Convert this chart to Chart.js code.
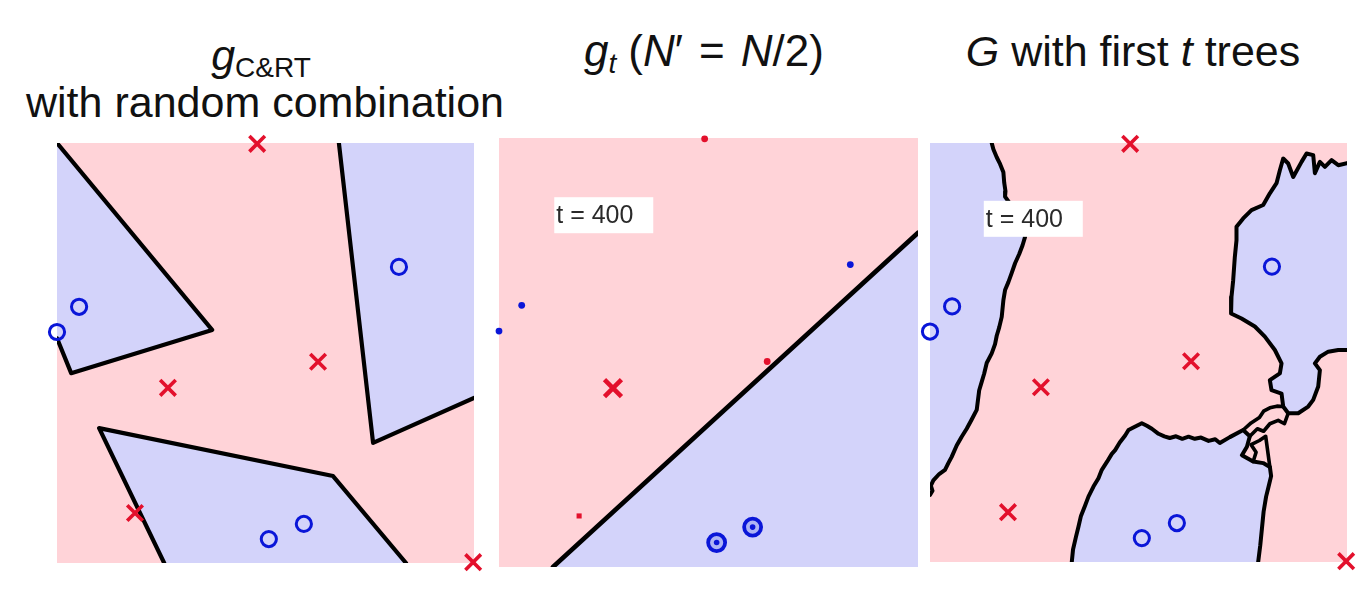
<!DOCTYPE html>
<html>
<head>
<meta charset="utf-8">
<script src="https://cdn.jsdelivr.net/npm/chart.js@4.4.0/dist/chart.umd.min.js"></script>
<style>
  html, body { margin: 0 ; padding: 0 ; background: #FFFFFF ; }
  body { width: 1368px ; height: 590px ; position: relative ; overflow: hidden ;
         font-family: "Liberation Sans", Arial, sans-serif ; }
  canvas { position: absolute ; }
  .title { position: absolute ; text-align: center ; font-size: 43px ; line-height: 43px ;
           color: #111111 ; white-space: nowrap ; }
  .sub   { font-size: 28px ; position: relative ; top: 7px ; }
  .gap   { margin-left: 12px ; }
  .rel   { margin: 0 16px ; }
</style>
</head>
<body>

<div class="title" style="left:0px; width:522px; top:34px;"><i>g</i><span class="sub">C&amp;RT</span></div>
<div class="title" style="left:0px; width:530px; top:81px;">with random combination</div>
<div class="title" style="left:504px; width:400px; top:29px; font-size:44px;"><i>g</i><span class="sub"><i>t</i></span><span class="gap">(</span><i>N</i>′<span class="rel">=</span><i>N</i>/2)</div>
<div class="title" style="left:933px; width:400px; top:30px;"><i>G</i> with first <i>t</i> trees</div>

<canvas id="panel1" width="457" height="460" style="left:37px; top:123px;"></canvas>
<canvas id="panel2" width="459" height="469" style="left:479px; top:118px;"></canvas>
<canvas id="panel3" width="457" height="459" style="left:910px; top:123px;"></canvas>

<script>
    const PINK         = '#FFD3D8' ;
    const BLUE         = '#D3D3FA' ;
    const CROSS_COLOR  = '#E3102C' ;
    const CIRCLE_COLOR = '#0A16D8' ;
    const LINE_COLOR   = '#000000' ;
    const LABEL_COLOR  = '#2A2A2A' ;

    // ---------------- Data (unit square, y up) ------------------------------

    // the training set, same in all three panels
    const CROSS_X  = [ 0.480, 0.626, 0.266, 0.187, 0.998 ] ;
    const CROSS_Y  = [ 0.998, 0.479, 0.417, 0.119, 0.002 ] ;
    const CIRCLE_X = [ 0.820, 0.053, 0.000, 0.592, 0.508 ] ;
    const CIRCLE_Y = [ 0.705, 0.610, 0.550, 0.093, 0.057 ] ;

    // bootstrap panel: how each point shows up in the sample
    const P2_CROSS_KIND  = [ 'dot', 'dot', 'cross', 'square', 'none' ] ;
    const P2_CIRCLE_KIND = [ 'dot', 'dot', 'dot', 'ring', 'ring' ] ;

    const TREE_LABEL = 't = 400' ;

    // g_C&RT : blue regions, boundary first then the frame corners that close it
    const P1_LEFT         = [ [0.000, 1.000], [0.372, 0.555], [0.034, 0.452], [0.000, 0.535] ] ;
    const P1_RIGHT        = [ [0.676, 1.000], [0.758, 0.286], [1.000, 0.393] ] ;
    const P1_RIGHT_CLOSE  = [ [1.000, 1.000] ] ;
    const P1_BOTTOM       = [ [0.257, 0.000], [0.101, 0.321], [0.662, 0.207], [0.837, 0.000] ] ;

    // g_t : one linear split
    const P2_XMAX         = 0.978 ;
    const P2_SPLIT        = [ [0.126, 0.000], [0.978, 0.779] ] ;
    const P2_SPLIT_CLOSE  = [ [0.978, 0.000] ] ;

    // G : ragged boundaries of the vote
    const P3_LEFT = [
        [0.148, 1.000], [0.152, 0.985], [0.160, 0.966], [0.168, 0.950], [0.176, 0.930],
        [0.178, 0.905], [0.181, 0.885], [0.180, 0.872], [0.192, 0.855], [0.206, 0.833],
        [0.218, 0.810], [0.228, 0.776], [0.222, 0.756], [0.214, 0.735], [0.204, 0.713],
        [0.196, 0.690], [0.188, 0.668], [0.180, 0.649], [0.176, 0.625], [0.172, 0.585],
        [0.166, 0.560], [0.160, 0.540], [0.156, 0.520], [0.148, 0.498], [0.136, 0.475],
        [0.130, 0.450], [0.124, 0.430], [0.118, 0.410], [0.112, 0.363], [0.100, 0.340],
        [0.088, 0.318], [0.076, 0.299], [0.064, 0.278], [0.052, 0.251], [0.044, 0.236],
        [0.036, 0.220], [0.022, 0.210], [0.008, 0.195], [0.002, 0.182], [0.006, 0.170],
        [0.000, 0.160]
    ] ;
    const P3_LEFT_CLOSE = [ [0.000, 1.000] ] ;

    const P3_RIGHT = [
        [1.000, 0.952], [0.979, 0.947], [0.963, 0.959], [0.947, 0.943], [0.935, 0.955],
        [0.923, 0.928], [0.919, 0.971], [0.903, 0.975], [0.891, 0.955], [0.871, 0.919],
        [0.859, 0.951], [0.847, 0.963], [0.839, 0.935], [0.831, 0.904], [0.815, 0.880],
        [0.799, 0.852], [0.771, 0.840], [0.751, 0.820], [0.735, 0.800], [0.735, 0.768],
        [0.731, 0.728], [0.727, 0.672], [0.723, 0.633], [0.722, 0.593], [0.747, 0.581],
        [0.779, 0.562], [0.803, 0.538], [0.827, 0.506], [0.843, 0.474], [0.839, 0.450],
        [0.815, 0.434], [0.819, 0.410], [0.843, 0.402], [0.847, 0.371], [0.859, 0.355],
        [0.883, 0.355], [0.907, 0.371], [0.919, 0.387], [0.931, 0.419], [0.935, 0.458],
        [0.923, 0.474], [0.935, 0.490], [0.955, 0.502], [0.979, 0.506], [1.000, 0.506]
    ] ;

    const P3_BOTTOM = [
        [0.340, 0.000], [0.343, 0.030], [0.350, 0.060], [0.356, 0.084], [0.362, 0.110],
        [0.372, 0.135], [0.380, 0.156], [0.392, 0.180], [0.404, 0.200], [0.412, 0.220],
        [0.425, 0.240], [0.436, 0.258], [0.444, 0.267], [0.455, 0.285], [0.468, 0.302],
        [0.476, 0.315], [0.490, 0.322], [0.508, 0.331], [0.520, 0.325], [0.532, 0.318],
        [0.548, 0.306], [0.562, 0.300], [0.575, 0.296], [0.590, 0.300], [0.605, 0.294],
        [0.620, 0.299], [0.635, 0.294], [0.650, 0.297], [0.668, 0.289], [0.684, 0.293],
        [0.695, 0.284], [0.719, 0.298], [0.751, 0.315], [0.767, 0.300], [0.760, 0.275],
        [0.748, 0.255], [0.775, 0.240], [0.799, 0.236], [0.815, 0.227], [0.818, 0.205],
        [0.812, 0.180], [0.806, 0.156], [0.800, 0.120], [0.796, 0.080], [0.792, 0.040],
        [0.787, 0.000]
    ] ;

    // the tangle where the right and bottom regions nearly meet
    const P3_KNOT_A = [ [0.751, 0.315], [0.770, 0.332], [0.790, 0.345], [0.800, 0.360],
                        [0.815, 0.368], [0.832, 0.372], [0.847, 0.371] ] ;
    const P3_KNOT_B = [ [0.767, 0.300], [0.785, 0.318], [0.800, 0.312], [0.815, 0.330],
                        [0.835, 0.338], [0.850, 0.330], [0.859, 0.355] ] ;
    const P3_KNOT_C = [ [0.775, 0.240], [0.782, 0.262], [0.770, 0.280], [0.790, 0.290],
                        [0.805, 0.300], [0.815, 0.227] ] ;

    // the "t = 400" box, top-left corner in data units
    const LABEL_X = 0.129 ;
    const LABEL_Y = 0.862 ;

    // ---------------- Helpers ----------------------------------------------

    function toPoints( pairs ) {
        return pairs.map( function( p ) { return { x: p[0], y: p[1] } ; } ) ;
    }

    function pickPoints( xs, ys, kinds, kind ) {
        var result = [] ;
        for( var i=0; i<xs.length; i++ ) {
            if( kinds == null || kinds[i] == kind ) {
                result.push( { x: xs[i], y: ys[i] } ) ;
            }
        }
        return result ;
    }

    function regionDataset( boundary, closing ) {
        return {
            type            : 'line',
            data            : toPoints( boundary.concat( closing || [] ) ),
            fill            : 'shape',
            backgroundColor : BLUE,
            borderColor     : 'rgba(0,0,0,0)',
            borderWidth     : 0,
            pointRadius     : 0,
            tension         : 0,
            order           : 3,
        } ;
    }

    function boundaryDataset( boundary, width ) {
        return {
            type            : 'line',
            data            : toPoints( boundary ),
            fill            : false,
            borderColor     : LINE_COLOR,
            borderWidth     : width,
            borderJoinStyle : 'round',
            borderCapStyle  : 'round',
            pointRadius     : 0,
            tension         : 0,
            order           : 2,
        } ;
    }

    function markerDataset( points, style, color, radius, width, fillColor ) {
        return {
            type                 : 'scatter',
            data                 : points,
            pointStyle           : style,
            pointRadius          : radius,
            pointBorderWidth     : width,
            pointBorderColor     : color,
            pointBackgroundColor : fillColor || 'rgba(0,0,0,0)',
            clip                 : false,
            order                : 1,
        } ;
    }

    function crossDataset( points ) {
        return markerDataset( points, 'crossRot', CROSS_COLOR, 11, 3.6 ) ;
    }

    function circleDataset( points ) {
        return markerDataset( points, 'circle', CIRCLE_COLOR, 7.6, 3.0 ) ;
    }

    const backgroundPlugin = {
        id : 'pinkBackground',
        beforeDraw( chart ) {
            const a = chart.chartArea ;
            const ctx = chart.ctx ;
            ctx.save() ;
            ctx.fillStyle = PINK ;
            ctx.fillRect( a.left, a.top, a.right - a.left, a.bottom - a.top ) ;
            ctx.restore() ;
        }
    } ;

    const labelPlugin = {
        id : 'treeLabel',
        afterDatasetsDraw( chart, args, opts ) {
            if( !opts || !opts.text ) { return ; }
            const ctx = chart.ctx ;
            const x = chart.scales.x.getPixelForValue( LABEL_X ) ;
            const y = chart.scales.y.getPixelForValue( LABEL_Y ) ;
            ctx.save() ;
            ctx.fillStyle = '#FFFFFF' ;
            ctx.fillRect( x, y, 99, 36 ) ;
            ctx.font = '25px "Liberation Sans", Arial, sans-serif' ;
            ctx.fillStyle = LABEL_COLOR ;
            ctx.textBaseline = 'middle' ;
            ctx.fillText( opts.text, x + 2, y + 19 ) ;
            ctx.restore() ;
        }
    } ;

    function makeChart( id, xMax, datasets, label ) {
        return new Chart( document.getElementById( id ), {
            type : 'scatter',
            data : { datasets: datasets },
            options : {
                responsive : false,
                animation  : false,
                layout     : { padding: 20 },
                events     : [],
                plugins : {
                    legend    : { display: false },
                    tooltip   : { enabled: false },
                    treeLabel : label ? { text: label } : false,
                },
                scales : {
                    x : { type: 'linear', min: 0, max: xMax, display: false },
                    y : { type: 'linear', min: 0, max: 1,    display: false },
                }
            },
            plugins : [ backgroundPlugin, labelPlugin ]
        } ) ;
    }

    // ---------------- Panel 1 : g_C&RT ---------------------------------------

    makeChart( 'panel1', 1, [
        crossDataset( pickPoints( CROSS_X, CROSS_Y ) ),
        circleDataset( pickPoints( CIRCLE_X, CIRCLE_Y ) ),
        boundaryDataset( P1_LEFT, 4.2 ),
        boundaryDataset( P1_RIGHT, 4.2 ),
        boundaryDataset( P1_BOTTOM, 4.2 ),
        regionDataset( P1_LEFT ),
        regionDataset( P1_RIGHT, P1_RIGHT_CLOSE ),
        regionDataset( P1_BOTTOM ),
    ] ) ;

    // ---------------- Panel 2 : g_t on a bootstrap sample --------------------

    makeChart( 'panel2', P2_XMAX, [
        markerDataset( pickPoints( CROSS_X, CROSS_Y, P2_CROSS_KIND, 'cross' ), 'crossRot', CROSS_COLOR, 12, 4.6 ),
        markerDataset( pickPoints( CROSS_X, CROSS_Y, P2_CROSS_KIND, 'square' ), 'rect', CROSS_COLOR, 3.6, 0, CROSS_COLOR ),
        markerDataset( pickPoints( CROSS_X, CROSS_Y, P2_CROSS_KIND, 'dot' ), 'circle', CROSS_COLOR, 3.4, 0, CROSS_COLOR ),
        markerDataset( pickPoints( CIRCLE_X, CIRCLE_Y, P2_CIRCLE_KIND, 'dot' ), 'circle', CIRCLE_COLOR, 3.4, 0, CIRCLE_COLOR ),
        markerDataset( pickPoints( CIRCLE_X, CIRCLE_Y, P2_CIRCLE_KIND, 'ring' ), 'circle', CIRCLE_COLOR, 2.8, 0, CIRCLE_COLOR ),
        markerDataset( pickPoints( CIRCLE_X, CIRCLE_Y, P2_CIRCLE_KIND, 'ring' ), 'circle', CIRCLE_COLOR, 8.5, 3.8, 'rgba(150,160,240,0.6)' ),
        boundaryDataset( P2_SPLIT, 4.6 ),
        regionDataset( P2_SPLIT, P2_SPLIT_CLOSE ),
    ], TREE_LABEL ) ;

    // ---------------- Panel 3 : G with the first t trees ---------------------

    makeChart( 'panel3', 1, [
        crossDataset( pickPoints( CROSS_X, CROSS_Y ) ),
        circleDataset( pickPoints( CIRCLE_X, CIRCLE_Y ) ),
        boundaryDataset( P3_LEFT, 4.0 ),
        boundaryDataset( P3_RIGHT, 4.0 ),
        boundaryDataset( P3_BOTTOM, 4.0 ),
        boundaryDataset( P3_KNOT_A, 3.6 ),
        boundaryDataset( P3_KNOT_B, 3.6 ),
        boundaryDataset( P3_KNOT_C, 3.6 ),
        regionDataset( P3_LEFT, P3_LEFT_CLOSE ),
        regionDataset( P3_RIGHT ),
        regionDataset( P3_BOTTOM ),
    ], TREE_LABEL ) ;
</script>
</body>
</html>
